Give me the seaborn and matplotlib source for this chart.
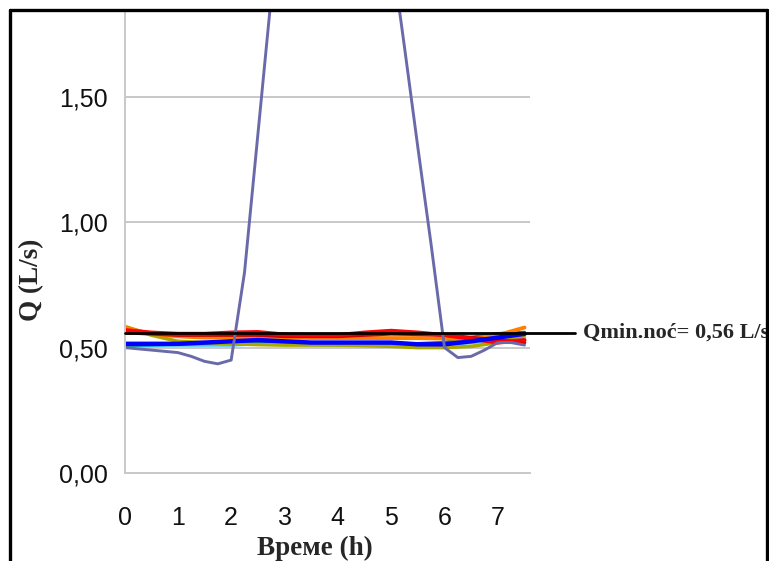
import numpy as np
import pandas as pd
import matplotlib
matplotlib.use("Agg")
import matplotlib.pyplot as plt
from matplotlib.lines import Line2D
import seaborn as sns

# Night-time flow measurements, time in hours after midnight
t_fine = [0.0, 0.25, 0.5, 0.75, 1.0, 1.25, 1.5, 1.75, 2.0, 2.25, 2.5, 2.75,
          3.0, 3.25, 3.5, 3.75, 4.0, 4.25, 4.5, 4.75, 5.0, 5.25, 5.5, 5.75,
          6.0, 6.25, 6.5, 6.75, 7.0, 7.25, 7.5]
q_event = [0.50, 0.495, 0.49, 0.485, 0.48, 0.465, 0.445, 0.435, 0.45, 0.80, 1.35, 1.90,
           2.30, 2.50, 2.60, 2.62, 2.62, 2.60, 2.55, 2.48, 2.09, 1.70, 1.30, 0.91,
           0.50, 0.46, 0.465, 0.49, 0.52, 0.52, 0.51]

t_half = [0.0, 0.5, 1.0, 1.5, 2.0, 2.5, 3.0, 3.5, 4.0, 4.5, 5.0, 5.5, 6.0, 6.5, 7.0, 7.5]
q_red = [0.57, 0.56, 0.555, 0.555, 0.56, 0.562, 0.552, 0.55, 0.55, 0.56, 0.567, 0.56, 0.55, 0.535, 0.52, 0.53]
q_darkred = [0.56, 0.555, 0.55, 0.55, 0.55, 0.55, 0.545, 0.545, 0.545, 0.55, 0.555, 0.553, 0.55, 0.54, 0.53, 0.52]
q_orange = [0.58, 0.555, 0.545, 0.54, 0.54, 0.54, 0.54, 0.538, 0.538, 0.538, 0.538, 0.538, 0.536, 0.535, 0.55, 0.58]
q_olive = [0.585, 0.55, 0.525, 0.52, 0.515, 0.512, 0.51, 0.51, 0.51, 0.508, 0.505, 0.50, 0.50, 0.505, 0.52, 0.55]
q_teal = [0.51, 0.512, 0.515, 0.518, 0.52, 0.52, 0.52, 0.518, 0.515, 0.515, 0.515, 0.515, 0.52, 0.54, 0.555, 0.56]
q_cyan = [0.508, 0.508, 0.51, 0.51, 0.51, 0.515, 0.515, 0.512, 0.51, 0.51, 0.51, 0.51, 0.512, 0.52, 0.53, 0.54]
q_blue = [0.515, 0.515, 0.515, 0.52, 0.525, 0.53, 0.525, 0.52, 0.52, 0.52, 0.52, 0.513, 0.513, 0.525, 0.54, 0.555]

q_min_night = 0.56
min_label = "Qmin.noć= 0,56 L/s"

y_ticks = [0.0, 0.5, 1.0, 1.5]
y_tick_labels = ["0,00", "0,50", "1,00", "1,50"]
x_ticks = [0, 1, 2, 3, 4, 5, 6, 7]

sns.set_theme(style="white")
plt.rcParams["font.family"] = ["Liberation Sans", "DejaVu Sans"]

fig = plt.figure(figsize=(7.69, 5.61), dpi=100)
ax = fig.add_axes([0.1619, 0.1574, 0.689 - 0.1619, 0.9804 - 0.1574])

grid_col = "#c8c8c8"
for y in y_ticks[1:]:
    ax.axhline(y, color=grid_col, lw=1.4, zorder=0)

series = [
    (t_half, q_cyan, "#40c8f0", 2.4),
    (t_half, q_teal, "#008080", 2.6),
    (t_half, q_olive, "#a8a800", 2.6),
    (t_half, q_orange, "#ff8000", 2.8),
    (t_half, q_darkred, "#d00000", 2.6),
    (t_half, q_red, "#ff0000", 2.9),
    (t_half, q_blue, "#0000ff", 3.2),
    (t_fine, q_event, "#6a6aaa", 2.1),
]
for t, q, c, lw in series:
    sns.lineplot(x=t, y=q, color=c, lw=lw, ax=ax, zorder=2)

# Minimum night flow reference line, running out past the plot
ax.plot([0, 8.45], [q_min_night, q_min_night], color="black", lw=2.0,
        zorder=5, clip_on=False)
ax.text(8.6, q_min_night, min_label, ha="left", va="center",
        fontsize=16, fontweight="bold", family="Liberation Serif",
        clip_on=False)

ax.set_xlim(0, 7.6)
ax.set_ylim(0, 1.845)
ax.set_xticks(x_ticks)
ax.set_xticklabels([str(v) for v in x_ticks])
ax.set_yticks(y_ticks)
ax.set_yticklabels(y_tick_labels)

for side in ("top", "right"):
    ax.spines[side].set_visible(False)
for side in ("left", "bottom"):
    ax.spines[side].set_color(grid_col)
    ax.spines[side].set_linewidth(1.4)

ax.tick_params(axis="x", direction="out", length=6, width=1.2, color=grid_col,
               pad=18, labelsize=18, labelcolor="#111111")
ax.tick_params(axis="y", direction="out", length=3, width=1.2, color=grid_col,
               pad=9, labelsize=18, labelcolor="#111111")

ax.set_xlabel("Време (h)", fontsize=19.5, fontweight="bold",
              family="Liberation Serif")
ax.set_ylabel("Q (L/s)", fontsize=19.5, fontweight="bold",
              family="Liberation Serif")
ax.xaxis.set_label_coords(0.47, -0.136)
ax.yaxis.set_label_coords(-0.198, 0.417)

# Black frame around the figure
fx0, fy1, fx1 = 0.0135, 0.9820, 0.9975
for xs, ys in [([fx0, fx0], [-0.1, fy1]), ([fx0, fx1], [fy1, fy1]),
               ([fx1, fx1], [fy1, -0.1])]:
    fig.add_artist(Line2D(xs, ys, transform=fig.transFigure, color="black",
                          lw=2.4, zorder=10))

fig.savefig("out.png", dpi=100)
